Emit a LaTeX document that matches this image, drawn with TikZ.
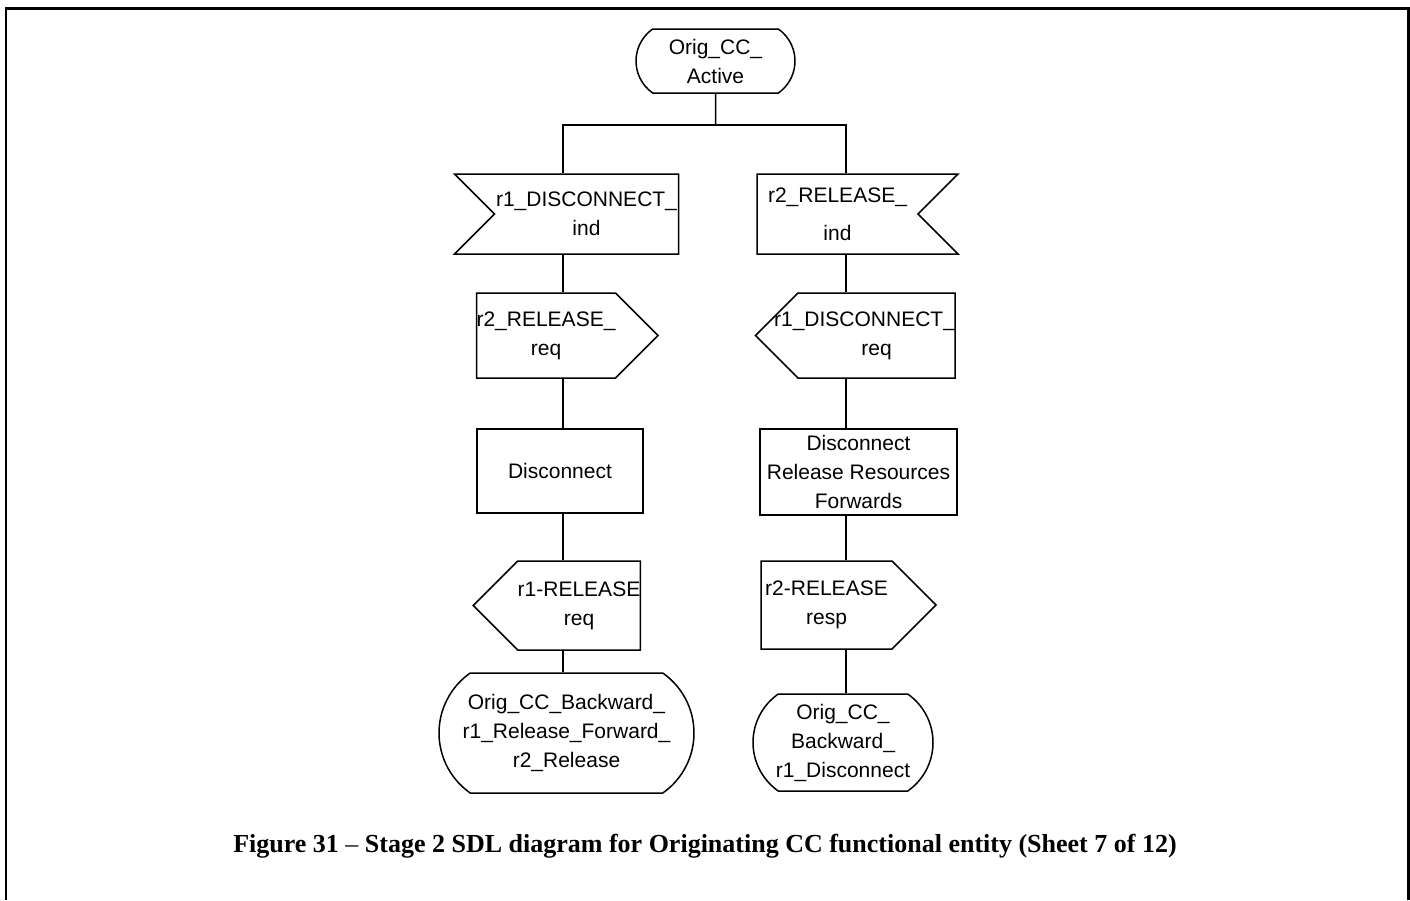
\documentclass[tikz,border=0pt]{standalone}
\usepackage{fontspec}
\setmainfont{Liberation Sans}
\newfontfamily\captionfont{Liberation Serif}
\usetikzlibrary{shapes.symbols,shapes.misc}

\tikzset{
	sdl/.style = {draw, line width = 1.5pt, inner sep = 0pt, align = center, font = \fontsize{21}{29}\selectfont},
	sdlstate/.style = {sdl, rounded rectangle, rounded rectangle arc length = 110},
	sdlinput/.style = {sdl, signal, signal pointer angle = 90, signal to = nowhere},
	sdloutput/.style = {sdl, signal, signal pointer angle = 90},
	sdltask/.style = {sdl, rectangle},
	sdlline/.style = {line width = 1.5pt}
}

\begin{document}
\begin{tikzpicture}[x = 1pt, y = -1pt]
	\useasboundingbox (0, 0) rectangle (1410, 900);

	% Rahmen:
	\draw [line width = 2.5pt] (6, 900) -- (6, 8.5) -- (1408.5, 8.5) -- (1408.5, 900);

	% Startzustand
	\node [sdlstate, minimum width = 159pt, minimum height = 64pt] (active) at (715.5, 61) {Orig\_CC\_\\Active};
	\coordinate (junction) at (715.5, 125);
	\coordinate (left) at (563, 125);
	\coordinate (right) at (846, 125);

	% Linker Zweig
	\node [sdlinput, signal from = west, minimum width = 224pt, minimum height = 80pt] (discind) at (586.5, 214) {r1\_DISCONNECT\_\\ind};
	\node [sdloutput, signal to = east, minimum width = 177pt, minimum height = 85pt] (relreq) at (546, 335.5) {r2\_RELEASE\_\\req};
	\node [sdltask, minimum width = 166pt, minimum height = 84pt] (disc) at (560, 471) {Disconnect};
	\node [sdloutput, signal to = west, minimum width = 164pt, minimum height = 89pt] (r1relreq) at (579, 605.5) {r1-RELEASE\\req};
	\node [sdlstate, minimum width = 255pt, minimum height = 120pt] (backfwd) at (566.5, 733) {Orig\_CC\_Backward\_\\r1\_Release\_Forward\_\\r2\_Release};

	% Rechter Zweig
	\node [sdlinput, signal from = east, minimum width = 201pt, minimum height = 80pt] (relind) at (837.5, 214) {r2\_RELEASE\_\\[9pt]ind};
	\node [sdloutput, signal to = west, minimum width = 197pt, minimum height = 85pt] (discreq) at (876.5, 335.5) {\makebox[157pt][r]{r1\_DISCONNECT\_}\\req};
	\node [sdltask, minimum width = 197pt, minimum height = 86pt] (discrel) at (858.5, 472) {Disconnect\\Release Resources\\Forwards};
	\node [sdloutput, signal to = east, minimum width = 175pt, minimum height = 88pt] (r2relresp) at (826.5, 605) {r2-RELEASE\\resp};
	\node [sdlstate, minimum width = 180pt, minimum height = 97pt] (backdisc) at (843, 742.5) {Orig\_CC\_\\Backward\_\\r1\_Disconnect};

	% Verbindungen:
	\begin{scope}[sdlline]
		\draw (active) -- (junction);
		\draw (left |- discind.north) -- (left) -- (right) -- (right |- relind.north);
		\foreach \a/\b in {discind/relreq, relreq/disc, disc/r1relreq, r1relreq/backfwd} {
			\draw (left |- \a.south) -- (left |- \b.north);
		}
		\foreach \a/\b in {relind/discreq, discreq/discrel, discrel/r2relresp, r2relresp/backdisc} {
			\draw (right |- \a.south) -- (right |- \b.north);
		}
	\end{scope}

	% Bildunterschrift
	\node [font = \captionfont\bfseries\fontsize{26}{30}\selectfont] (caption) at (705, 846) {Figure 31 {\mdseries –} Stage 2 SDL diagram for Originating CC functional entity (Sheet 7 of 12)};
\end{tikzpicture}
\end{document}
